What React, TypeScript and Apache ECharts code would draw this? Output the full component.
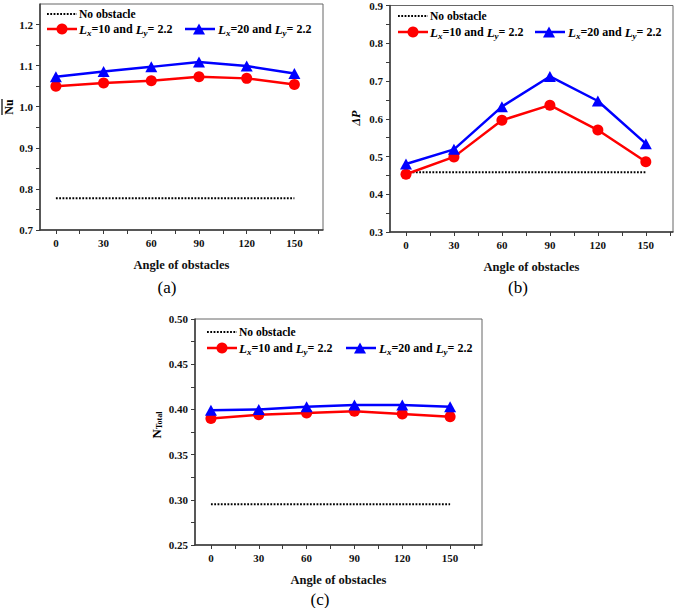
import React, { useEffect, useRef } from "react";
import * as echarts from "echarts";

// ---- data ----
const angles = [0, 30, 60, 90, 120, 150];
const xTickValues = [0, 15, 30, 45, 60, 75, 90, 105, 120, 135, 150, 165];

const nuLx10 = [1.05, 1.058, 1.063, 1.073, 1.069, 1.054];
const nuLx20 = [1.073, 1.086, 1.097, 1.109, 1.099, 1.081];
const nuNoObstacle = 0.777;
const nuLabels = [0.7, 0.8, 0.9, 1.0, 1.1, 1.2];
const nuTicks = [0.7, 0.75, 0.8, 0.85, 0.9, 0.95, 1.0, 1.05, 1.1, 1.15, 1.2];

const dpLx10 = [0.453, 0.499, 0.596, 0.636, 0.57, 0.486];
const dpLx20 = [0.48, 0.519, 0.632, 0.712, 0.647, 0.534];
const dpNoObstacle = 0.458;
const dpLabels = [0.3, 0.4, 0.5, 0.6, 0.7, 0.8, 0.9];
const dpTicks = [0.3, 0.35, 0.4, 0.45, 0.5, 0.55, 0.6, 0.65, 0.7, 0.75, 0.8, 0.85, 0.9];

const ntLx10 = [0.39, 0.394, 0.396, 0.398, 0.395, 0.392];
const ntLx20 = [0.399, 0.4, 0.403, 0.405, 0.405, 0.403];
const ntNoObstacle = 0.295;
const ntLabels = [0.25, 0.3, 0.35, 0.4, 0.45, 0.5];
const ntTicks = [0.25, 0.275, 0.3, 0.325, 0.35, 0.375, 0.4, 0.425, 0.45, 0.475, 0.5];

const nameNo = "No obstacle";
const nameA = "Lx=10 and Ly= 2.2";
const nameB = "Lx=20 and Ly= 2.2";
const richA = "{i|L}{s|x}{n|=10 and }{i|L}{s|y}{n|= 2.2}";
const richB = "{i|L}{s|x}{n|=20 and }{i|L}{s|y}{n|= 2.2}";
const xName = "Angle of obstacles";

const SERIF = "'Liberation Serif', 'Times New Roman', serif";
const RED = "#ff0000";
const BLUE = "#0000ff";
const AXIS = "#3a3a3a";

const richStyles = {
  n: { fontFamily: SERIF, fontWeight: "bold", fontSize: 12, fill: "#000" },
  i: { fontFamily: SERIF, fontStyle: "italic", fontWeight: "bold", fontSize: 13, fill: "#000" },
  s: { fontFamily: SERIF, fontStyle: "italic", fontWeight: "bold", fontSize: 9, fill: "#000", padding: [7, 0, 0, 0] },
};

function xAxisFor(gridIndex: number, max: number) {
  return {
    type: "value",
    gridIndex,
    min: -10,
    max,
    name: xName,
    nameLocation: "middle",
    nameGap: 28,
    nameTextStyle: { fontFamily: SERIF, fontWeight: "bold", fontSize: 12.5, color: "#111" },
    axisLine: { show: true, onZero: false, lineStyle: { color: AXIS, width: 1.5 } },
    axisTick: { show: true, inside: false, length: 4, customValues: xTickValues, lineStyle: { color: AXIS, width: 1 } },
    axisLabel: {
      customValues: angles,
      margin: 7,
      fontFamily: SERIF,
      fontWeight: "bold",
      fontSize: 11,
      color: "#111",
    },
    splitLine: { show: false },
  };
}

function yAxisFor(gridIndex: number, min: number, max: number, labels: number[], ticks: number[], digits: number) {
  return {
    type: "value",
    gridIndex,
    min,
    max,
    axisLine: { show: true, onZero: false, lineStyle: { color: AXIS, width: 1.5 } },
    axisTick: { show: true, inside: false, length: 4, customValues: ticks, lineStyle: { color: AXIS, width: 1 } },
    axisLabel: {
      customValues: labels,
      margin: 7,
      fontFamily: SERIF,
      fontWeight: "bold",
      fontSize: 11,
      color: "#111",
      formatter: (v: number) => v.toFixed(digits),
    },
    splitLine: { show: false },
  };
}

function seriesFor(idx: number, a: number[], b: number[], no: number) {
  return [
    {
      name: nameNo,
      type: "line",
      xAxisIndex: idx,
      yAxisIndex: idx,
      data: angles.map((x) => [x, no]),
      showSymbol: false,
      symbol: "none",
      lineStyle: { color: "#000", width: 2, type: [1.8, 1.5] },
      z: 2,
    },
    {
      name: nameA,
      type: "line",
      xAxisIndex: idx,
      yAxisIndex: idx,
      data: angles.map((x, i) => [x, a[i]]),
      symbol: "circle",
      symbolSize: 11,
      itemStyle: { color: RED },
      lineStyle: { color: RED, width: 2.5 },
      z: 3,
    },
    {
      name: nameB,
      type: "line",
      xAxisIndex: idx,
      yAxisIndex: idx,
      data: angles.map((x, i) => [x, b[i]]),
      symbol: "triangle",
      symbolSize: [12, 11],
      itemStyle: { color: BLUE },
      lineStyle: { color: BLUE, width: 2.5 },
      z: 4,
    },
  ];
}

function legendFor(x0: number, y1: number, y2: number, bx: number) {
  return [
    {
      type: "line",
      shape: { x1: x0, y1: y1, x2: x0 + 30, y2: y1 },
      style: { stroke: "#000", lineWidth: 2, lineDash: [1.8, 1.5] },
    },
    {
      type: "text",
      x: x0 + 32,
      y: y1,
      style: { text: nameNo, fontFamily: SERIF, fontWeight: "bold", fontSize: 11.5, fill: "#000", verticalAlign: "middle", align: "left" },
    },
    {
      type: "line",
      shape: { x1: x0, y1: y2, x2: x0 + 30, y2: y2 },
      style: { stroke: RED, lineWidth: 2.5 },
    },
    { type: "circle", shape: { cx: x0 + 15, cy: y2, r: 5.5 }, style: { fill: RED } },
    {
      type: "text",
      x: x0 + 32,
      y: y2,
      style: { text: richA, rich: richStyles, verticalAlign: "middle", align: "left" },
    },
    {
      type: "line",
      shape: { x1: bx, y1: y2, x2: bx + 30, y2: y2 },
      style: { stroke: BLUE, lineWidth: 2.5 },
    },
    {
      type: "polygon",
      shape: { points: [[bx + 14, y2 - 5.5], [bx + 20, y2 + 5.5], [bx + 8, y2 + 5.5]] },
      style: { fill: BLUE },
    },
    {
      type: "text",
      x: bx + 33,
      y: y2,
      style: { text: richB, rich: richStyles, verticalAlign: "middle", align: "left" },
    },
  ];
}

export default function App() {
  const ref = useRef<HTMLDivElement>(null);
  useEffect(() => {
    document.body.style.margin = "0";
    if (!ref.current) return;
    const chart = echarts.init(ref.current, null, { renderer: "svg" });
    const gridBase = { show: true, borderColor: "#666", borderWidth: 1, backgroundColor: "#fff" };
    chart.setOption({
      animation: false,
      backgroundColor: "#fff",
      grid: [
        { ...gridBase, left: 40, top: 4, width: 283, height: 226 },
        { ...gridBase, left: 390, top: 5, width: 283, height: 227 },
        { ...gridBase, left: 195, top: 319, width: 287, height: 226 },
      ],
      xAxis: [xAxisFor(0, 168), xAxisFor(1, 167), xAxisFor(2, 170)],
      yAxis: [
        yAxisFor(0, 0.7, 1.25, nuLabels, nuTicks, 1),
        yAxisFor(1, 0.3, 0.9, dpLabels, dpTicks, 1),
        yAxisFor(2, 0.25, 0.5, ntLabels, ntTicks, 2),
      ],
      series: [
        ...seriesFor(0, nuLx10, nuLx20, nuNoObstacle),
        ...seriesFor(1, dpLx10, dpLx20, dpNoObstacle),
        ...seriesFor(2, ntLx10, ntLx20, ntNoObstacle),
      ],
      graphic: [
        ...legendFor(47, 14, 29, 185),
        ...legendFor(398, 16, 32, 535),
        ...legendFor(207, 332, 348, 346),
        // y-axis name (a): Nu with overline
        {
          type: "group",
          x: 9,
          y: 107,
          rotation: Math.PI / 2,
          children: [
            {
              type: "text",
              x: 0,
              y: 0,
              style: { text: "Nu", fontFamily: SERIF, fontWeight: "bold", fontSize: 12, fill: "#000", align: "center", verticalAlign: "middle" },
            },
            { type: "line", shape: { x1: -8, y1: -7, x2: 8, y2: -7 }, style: { stroke: "#000", lineWidth: 1.2 } },
          ],
        },
        // y-axis name (b)
        {
          type: "text",
          x: 356,
          y: 118,
          rotation: Math.PI / 2,
          style: { text: "ΔP", fontFamily: SERIF, fontStyle: "italic", fontWeight: "bold", fontSize: 12, fill: "#000", align: "center", verticalAlign: "middle" },
        },
        // y-axis name (c)
        {
          type: "text",
          x: 156,
          y: 425,
          rotation: Math.PI / 2,
          style: {
            text: "{n|N}{s|Total}",
            align: "center",
            verticalAlign: "middle",
            rich: {
              n: { fontFamily: SERIF, fontWeight: "bold", fontSize: 13, fill: "#000" },
              s: { fontFamily: SERIF, fontWeight: "bold", fontSize: 8, fill: "#000", padding: [7, 0, 0, 0] },
            },
          },
        },
        // panel labels
        { type: "text", x: 167, y: 287, style: { text: "(a)", fontFamily: SERIF, fontSize: 17, fill: "#000", align: "center", verticalAlign: "middle" } },
        { type: "text", x: 518, y: 287, style: { text: "(b)", fontFamily: SERIF, fontSize: 17, fill: "#000", align: "center", verticalAlign: "middle" } },
        { type: "text", x: 320, y: 599, style: { text: "(c)", fontFamily: SERIF, fontSize: 17, fill: "#000", align: "center", verticalAlign: "middle" } },
      ],
    });
    return () => chart.dispose();
  }, []);
  return <div ref={ref} style={{ width: 685, height: 608 }} />;
}
